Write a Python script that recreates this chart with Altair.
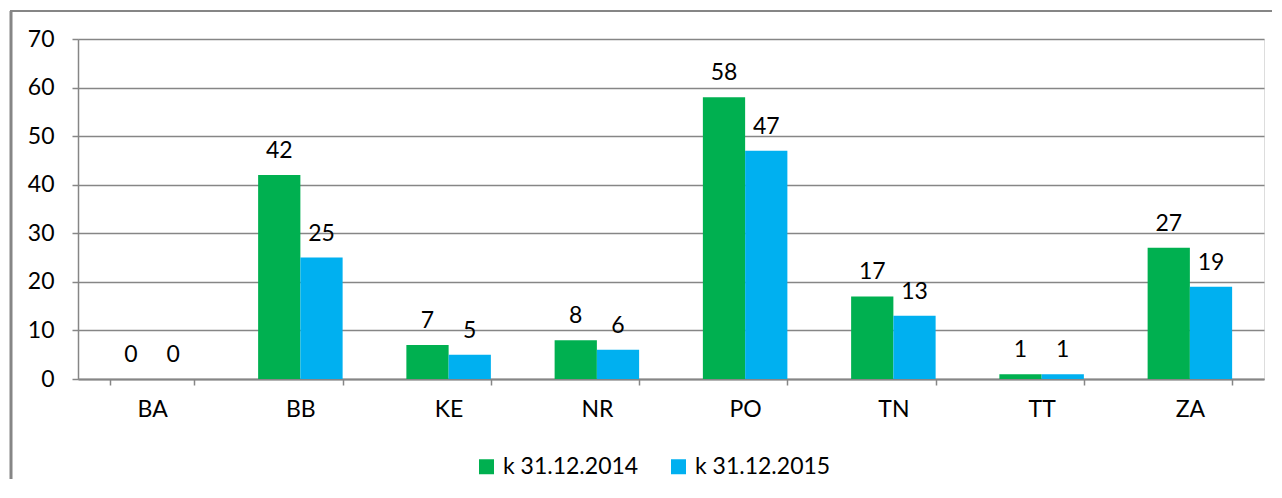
import altair as alt
import pandas as pd

regions = ["BA", "BB", "KE", "NR", "PO", "TN", "TT", "ZA"]
series = ["k 31.12.2014", "k 31.12.2015"]
v2014 = [0, 42, 7, 8, 58, 17, 1, 27]
v2015 = [0, 25, 5, 6, 47, 13, 1, 19]
colors = ["#00B050", "#00B0F0"]
y_ticks = [0, 10, 20, 30, 40, 50, 60, 70]

rows = []
for r, a, b in zip(regions, v2014, v2015):
    rows.append({"kraj": r, "obdobie": series[0], "pocet": a})
    rows.append({"kraj": r, "obdobie": series[1], "pocet": b})
df = pd.DataFrame(rows)

FONT = "Lato"
FS = 23
GRID = "#868686"

x = alt.X(
    "kraj:N", sort=regions,
    scale=alt.Scale(paddingInner=0.43, paddingOuter=0.215),
    axis=alt.Axis(title=None, labelAngle=0, labelFontSize=FS, labelColor="black",
                  labelFont=FONT, labelPadding=13, tickBand="extent", tickSize=6,
                  tickColor=GRID, tickWidth=1.5, domainColor=GRID, domainWidth=2, grid=False),
)
xo = alt.XOffset("obdobie:N", sort=series, scale=alt.Scale(paddingInner=0, paddingOuter=0))
y = alt.Y(
    "pocet:Q",
    scale=alt.Scale(domain=[0, 70], nice=False),
    axis=alt.Axis(title=None, values=y_ticks, grid=True, gridColor=GRID, gridWidth=1.5,
                  tickSize=6, tickColor=GRID, tickWidth=1.5, domainColor=GRID, domainWidth=1.5,
                  labelFontSize=FS, labelColor="black", labelFont=FONT, labelPadding=18),
)

base = alt.Chart(df)
bars = base.mark_bar().encode(
    x=x, xOffset=xo, y=y,
    color=alt.Color(
        "obdobie:N", sort=series,
        scale=alt.Scale(domain=series, range=colors),
        legend=alt.Legend(title=None, orient="none", legendX=397, legendY=416,
                          direction="horizontal", symbolType="square", symbolSize=225,
                          symbolStrokeWidth=0, labelFontSize=FS, labelFont=FONT,
                          labelColor="black", columnPadding=28, labelOffset=5),
    ),
)
labels = base.mark_text(baseline="alphabetic", dy=-17, fontSize=FS, font=FONT, color="black").encode(
    x=x, xOffset=xo, y=y, text=alt.Text("pocet:Q")
)

one = pd.DataFrame({"a": [0]})
left_border = alt.Chart(one).mark_rule(color=GRID, strokeWidth=3).encode(
    x=alt.value(-67), y=alt.value(-28), y2=alt.value(480)
)
top_border = alt.Chart(one).mark_rule(color=GRID, strokeWidth=2).encode(
    x=alt.value(-68), x2=alt.value(1200), y=alt.value(-28)
)

chart = alt.layer(left_border, top_border, bars, labels).properties(
    width=1186, height=340,
    autosize=alt.AutoSizeParams(type="none"),
    padding={"left": 70, "top": 31, "right": 8, "bottom": 100},
).configure_view(stroke=None).configure(background="white")

chart.save("out.html", embed_options={"renderer": "svg", "actions": False})
